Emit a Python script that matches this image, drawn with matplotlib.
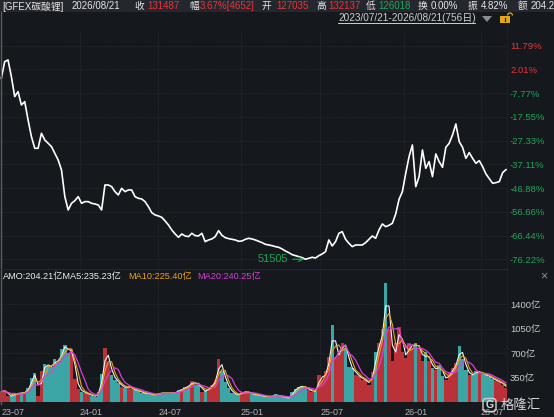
import numpy as np
import pandas as pd
import matplotlib
matplotlib.use("Agg")
import matplotlib.pyplot as plt
from matplotlib.lines import Line2D
from matplotlib.patches import Rectangle, FancyBboxPatch, Polygon, Arc

plt.rcParams['font.family'] = ['Liberation Sans', 'Noto Sans CJK SC', 'DejaVu Sans']

# weekly closes of GFEX lithium carbonate (yuan/t), 2023-07-21 .. 2026-08-21
close = [213000, 227880, 229370, 214490, 196640, 201100, 189200, 192180, 175820, 160940,
         150530, 150530, 163920, 157970, 154990, 152020, 146070, 140120, 131190, 107390,
         95490, 101440, 103820, 107390, 101440, 102930, 102930, 101440, 100850, 99950,
         95490, 117800, 117800, 116320, 111850, 108880, 114830, 111850, 113340, 113340,
         107390, 105900, 105310, 102930, 98470, 93110, 91030, 90140, 88950, 85670,
         82100, 77640, 74070, 71100, 74070, 72290, 71690, 74670, 72580, 72290,
         74670, 67230, 68720, 69610, 71690, 77050, 72880, 70800, 69910, 69310,
         68720, 67530, 67820, 69310, 70200, 69610, 68720, 67530, 66340, 64850,
         64250, 63660, 62770, 62170, 60680, 58900, 57410, 55630, 54730, 53840,
         52950, 51505, 52350, 53250, 52650, 54730, 56220, 58300, 68720, 63360,
         67230, 74670, 76150, 69310, 65740, 62770, 64250, 64250, 64250, 66340,
         69310, 72290, 70200, 77640, 82990, 80620, 81810, 83590, 91920, 105010,
         111850, 128220, 143090, 153500, 116320, 125240, 149040, 132680, 138630, 125240,
         145470, 138630, 133570, 151420, 154990, 162430, 172240, 156480, 151420, 141600,
         146660, 141600, 137140, 139520, 134170, 127620, 123460, 119290, 119890, 120780,
         128810, 131487]

# weekly turnover (亿元)
amo = [150, 170, 80, 90, 120, 125, 130, 140, 200, 350,
       420, 80, 450, 540, 520, 500, 620, 560, 760, 820,
       700, 760, 330, 190, 150, 130, 110, 90, 75, 150,
       400, 780, 560, 390, 320, 270, 220, 200, 230, 180,
       170, 160, 130, 125, 120, 100, 105, 125, 130, 125,
       130, 130, 135, 170, 180, 220, 230, 300, 250, 260,
       150, 160, 200, 250, 320, 620, 450, 280, 200, 130,
       110, 100, 150, 140, 140, 110, 100, 100, 80, 80,
       75, 85, 110, 80, 75, 60, 55, 150, 190, 220,
       230, 200, 170, 150, 160, 390, 320, 450, 650, 1100,
       650, 700, 850, 780, 500, 480, 390, 370, 320, 310,
       250, 430, 720, 850, 1050, 1700, 1050, 580, 850, 1080,
       720, 630, 850, 780, 840, 770, 590, 720, 580, 490,
       460, 530, 370, 320, 410, 480, 560, 800, 620, 460,
       390, 390, 440, 430, 400, 380, 360, 330, 300, 290,
       250, 204]

base = 216590  # price the percent axis is measured against
pct_ticks = [11.79, 2.01, -7.77, -17.55, -27.33, -37.11, -46.88, -56.66, -66.44, -76.22]
vol_ticks = [350, 700, 1050, 1400]
date_pos = [0, 23.4, 46.9, 71.7, 95.4, 120.5, 143.4]
date_lbl = ["23-07", "24-01", "24-07", "25-01", "25-07", "26-01", "26-07"]

header = [("[GFEX碳酸锂]", "#e6e6e6"), ("2026/08/21", "#e6e6e6"),
          ("收", "#e6e6e6"), ("131487", "#e8343a"),
          ("幅", "#e6e6e6"), ("3.67%[4652]", "#e8343a"),
          ("开", "#e6e6e6"), ("127035", "#e8343a"),
          ("高", "#e6e6e6"), ("132137", "#e8343a"),
          ("低", "#e6e6e6"), ("126018", "#1fa659"),
          ("换", "#e6e6e6"), ("0.00%", "#e6e6e6"),
          ("振", "#e6e6e6"), ("4.82%", "#e6e6e6"),
          ("额", "#e6e6e6"), ("204.21亿", "#e6e6e6")]
header_x = [2, 72, 134, 147, 189, 200, 262, 276, 316, 328, 366, 378, 418, 431, 468, 481, 518, 531]

BG = "#15181d"
GRID = "#2c3037"
RED = "#e8343a"
GREEN = "#1fa659"
W, H = 554, 417

close = np.array(close, dtype=float)
amo = np.array(amo, dtype=float)
k = np.arange(len(close))


def rect(x0, y0, x1, y1):
    return [x0 / W, 1 - y1 / H, (x1 - x0) / W, (y1 - y0) / H]


fig = plt.figure(figsize=(W / 100, H / 100), dpi=100)
fig.patch.set_facecolor(BG)

ax = fig.add_axes(rect(0, 30, 507, 268))
axv = fig.add_axes(rect(0, 270, 507, 402), sharex=ax)

for a in (ax, axv):
    a.set_facecolor(BG)
    for s in a.spines.values():
        s.set_visible(False)
    a.grid(True, color=GRID, lw=0.6, ls=(0, (1, 1.5)))
    a.set_axisbelow(True)
    a.yaxis.tick_right()

# price panel
ax.plot(k, close, color="white", lw=1.2, solid_joinstyle="round")
ax.set_xlim(-0.4, 151.3)
ax.set_ylim(43700, 256100)
ax.set_yticks([base * (1 + p / 100) for p in pct_ticks])
ax.set_yticklabels([f"{p:.2f}%" for p in pct_ticks])
for lab, p in zip(ax.get_yticklabels(), pct_ticks):
    lab.set_color(RED if p > 0 else GREEN)
ax.tick_params(axis="y", length=0, pad=2.2, labelsize=6.8)
ax.set_xticks(date_pos)
ax.tick_params(axis="x", length=0, labelbottom=False)

imin = int(np.argmin(close))
ax.annotate(f"{close[imin]:.0f}", xy=(k[imin], close[imin]), xytext=(-17, 0),
            textcoords="offset pixels", ha="right", va="center",
            color=GREEN, fontsize=7.8,
            arrowprops=dict(arrowstyle="->", color=GREEN, lw=0.8,
                            shrinkA=1, shrinkB=1))

# turnover panel
up = np.r_[True, np.diff(close) >= 0]
axv.bar(k, amo, width=1.0, color=np.where(up, "#e0393d", "#45c6c6"),
        alpha=0.82, linewidth=0)
s = pd.Series(amo)
axv.plot(k, s.rolling(2, min_periods=1).mean(), color="#f2f2f2", lw=0.8)
axv.plot(k, s.rolling(3, min_periods=1).mean(), color="#eba21a", lw=0.8)
axv.plot(k, s.rolling(5, min_periods=1).mean(), color="#d83fd8", lw=0.9)
axv.set_ylim(0, 1890)
axv.set_yticks(vol_ticks)
axv.set_yticklabels([f"{v}亿" for v in vol_ticks])
axv.tick_params(axis="y", length=0, pad=2.2, labelsize=6.8, labelcolor="#c9c9c9")
axv.set_xticks(date_pos)
axv.set_xticklabels(date_lbl, ha="left")
axv.tick_params(axis="x", length=0, pad=4, labelsize=6.5, labelcolor="#b4b4b4")

# overlay for header, legend and decorations (pixel coordinates)
ov = fig.add_axes([0, 0, 1, 1])
ov.set_xlim(0, W)
ov.set_ylim(H, 0)
ov.axis("off")
ov.patch.set_alpha(0)

ov.add_patch(Rectangle((0, 0), W, 12, color="#24272d", lw=0))
for (txt, col), x in zip(header, header_x):
    ov.text(x, 6.3, txt, color=col, fontsize=7.0, va="center", ha="left", clip_on=True)

ov.text(338, 18, "2023/07/21-2026/08/21(756日)", color="#cfcfcf", fontsize=7.2,
        va="center", ha="left")
ov.add_line(Line2D([338, 475], [22.5, 22.5], color="#cfcfcf", lw=0.7))
ov.add_patch(Polygon([[482, 16], [492, 16], [487, 22]], closed=True, color="#8a8d92", lw=0))
ov.add_patch(Rectangle((500, 16), 10, 7, color="#e3a812", lw=0))
ov.add_line(Line2D([505, 505], [17.5, 20.5], color="#3a2a00", lw=0.9))
ov.add_patch(Arc((510, 15.5), 5, 5, theta1=180, theta2=360, color="#e3a812", lw=0.9))

# panel borders
ov.add_line(Line2D([0.6, 0.6], [12, 404], color="#5a5e64", lw=1.0))
ov.add_line(Line2D([507, 507], [24, 404], color=GRID, lw=0.6, ls=(0, (1, 1.5))))
ov.add_line(Line2D([0, 507], [268.5, 268.5], color="#262a30", lw=0.8))

# turnover legend
ov.text(3, 276, "AMO:204.21亿MA5:235.23亿", color="#ececec", fontsize=6.6, va="center")
ov.text(128, 276, "MA10:225.40亿", color="#eba21a", fontsize=6.6, va="center")
ov.text(197, 276, "MA20:240.25亿", color="#d83fd8", fontsize=6.6, va="center")
ov.text(544, 276, "×", color="#8a8d92", fontsize=9, va="center", ha="center")

# logo
ov.add_patch(FancyBboxPatch((483, 398.5), 13, 13, boxstyle="round,pad=0,rounding_size=3",
                            fill=False, ec="#d0d0d0", lw=1.0))
ov.text(489.5, 405.3, "G", color="#d8d8d8", fontsize=7.5, fontweight="bold",
        ha="center", va="center")
ov.text(501, 405.5, "格隆汇", color="#d8d8d8", fontsize=9.6, ha="left", va="center")

fig.savefig("out.png", dpi=100, facecolor=BG)
